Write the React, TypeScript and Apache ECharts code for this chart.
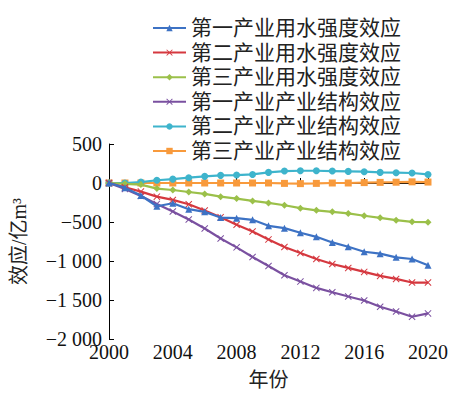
import React, { useEffect, useRef } from "react";
import * as echarts from "echarts";

const years = [2000, 2001, 2002, 2003, 2004, 2005, 2006, 2007, 2008, 2009, 2010, 2011, 2012, 2013, 2014, 2015, 2016, 2017, 2018, 2019, 2020];

const seriesNames = [
  "第一产业用水强度效应",
  "第二产业用水强度效应",
  "第三产业用水强度效应",
  "第一产业产业结构效应",
  "第二产业产业结构效应",
  "第三产业产业结构效应",
];

const primaryIntensity = [0, -60, -160, -298, -260, -336, -370, -443, -451, -472, -549, -579, -638, -690, -762, -817, -881, -906, -953, -974, -1055];
const secondaryIntensity = [0, -55, -110, -175, -217, -272, -353, -438, -536, -621, -723, -821, -898, -974, -1038, -1089, -1140, -1191, -1230, -1276, -1276];
const tertiaryIntensity = [0, -10, -20, -72, -90, -115, -140, -175, -200, -230, -255, -285, -323, -350, -370, -390, -420, -447, -477, -498, -502];
const primaryStructure = [0, -77, -166, -268, -366, -468, -583, -711, -825, -949, -1064, -1183, -1264, -1345, -1400, -1455, -1506, -1587, -1647, -1715, -1672];
const secondaryStructure = [0, 0, 12, 35, 50, 68, 85, 98, 102, 110, 136, 153, 157, 157, 153, 149, 145, 136, 132, 128, 110];
const tertiaryStructure = [0, 0, 0, 0, 0, 0, 0, 0, 0, 0, 0, -5, -8, -5, 0, 0, 5, 8, 10, 15, 12];

const xTicks = { min: 2000, max: 2020, interval: 4 };
const yTicks = { min: -2000, max: 500, interval: 500 };

const colors = ["#3d72c4", "#d5383f", "#9bc04a", "#7a50a0", "#3eb4cc", "#f89a3c"];
const X_SYMBOL = "path://M0,1L1,0L5,4L9,0L10,1L6,5L10,9L9,10L5,6L1,10L0,9L4,5Z";
const symbols = ["triangle", X_SYMBOL, "diamond", X_SYMBOL, "circle", "rect"];
const allValues = [primaryIntensity, secondaryIntensity, tertiaryIntensity, primaryStructure, secondaryStructure, tertiaryStructure];

const FONT = "'Liberation Serif', 'Noto Sans CJK SC', serif";

function fmtY(v: number): string {
  const a = Math.abs(v);
  let s = String(a);
  if (a >= 1000) s = s.slice(0, s.length - 3) + " " + s.slice(s.length - 3);
  return (v < 0 ? "\u2212" : "") + s;
}

export default function App() {
  const ref = useRef<HTMLDivElement>(null);
  useEffect(() => {
    if (!ref.current) return;
    const chart = echarts.init(ref.current, undefined, { renderer: "svg" });
    const series = seriesNames.map((name, i) => ({
      name,
      type: "line",
      data: years.map((y, j) => [y, allValues[i][j]]),
      symbol: symbols[i],
      symbolSize: 7,
      color: colors[i],
      lineStyle: { width: 2.2, color: colors[i] },
      itemStyle: { color: colors[i] },
      z: 10 - i,
    }));
    chart.setOption({
      animation: false,
      backgroundColor: "#ffffff",
      grid: { left: 109, top: 144, width: 319, height: 195, containLabel: false },
      legend: {
        orient: "vertical",
        left: 147,
        top: 12,
        itemWidth: 33,
        itemHeight: 8,
        itemGap: 2.6,
        textStyle: { fontSize: 21, lineHeight: 22, color: "#222", fontFamily: FONT },
        data: seriesNames,
      },
      xAxis: {
        type: "value",
        min: xTicks.min,
        max: xTicks.max,
        interval: xTicks.interval,
        name: "年份",
        nameLocation: "middle",
        nameGap: 31,
        nameTextStyle: { fontSize: 20, color: "#222", fontFamily: FONT },
        axisLine: { lineStyle: { color: "#000", width: 1 } },
        axisTick: { inside: true, length: 5, lineStyle: { color: "#000" } },
        axisLabel: { fontSize: 20, color: "#111", fontFamily: FONT, margin: 3, formatter: (v: number) => String(v) },
        splitLine: { show: false },
      },
      yAxis: {
        type: "value",
        min: yTicks.min,
        max: yTicks.max,
        interval: yTicks.interval,
        name: "效应/亿m³",
        nameLocation: "middle",
        nameGap: 80,
        nameTextStyle: { fontSize: 20, color: "#222", fontFamily: FONT },
        axisLine: { show: true, lineStyle: { color: "#000", width: 1 } },
        axisTick: { show: true, inside: true, length: 5, lineStyle: { color: "#000" } },
        axisLabel: { fontSize: 20, color: "#111", fontFamily: FONT, margin: 7, formatter: fmtY },
        splitLine: { show: false },
      },
      series,
    });
    return () => chart.dispose();
  }, []);
  return (
    <div
      ref={ref}
      style={{ position: "fixed", left: 0, top: 0, width: 451, height: 393, background: "#fff" }}
    />
  );
}
